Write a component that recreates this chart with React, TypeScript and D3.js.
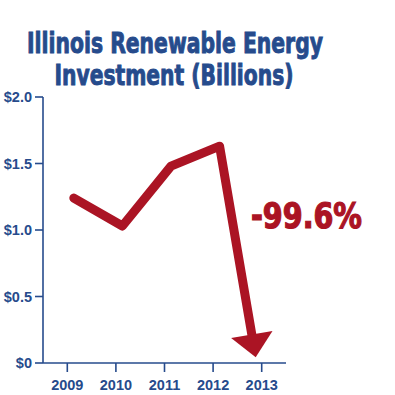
import React from "react";
import * as d3 from "d3";

const WIDTH = 395;
const HEIGHT = 395;
const BLUE = "#264b8c";
const RED = "#ab1424";

const years = [2009, 2010, 2011, 2012, 2013];
const investment = [1.24, 1.03, 1.48, 1.63, 0.0065];
const yTicks = [0, 0.5, 1.0, 1.5, 2.0];
const yTickLabels = ["$0", "$0.5", "$1.0", "$1.5", "$2.0"];
const titleLines = ["Illinois Renewable Energy", "Investment (Billions)"];
const changeLabel = "-99.6%";

const x = d3.scaleLinear().domain([2008.5, 2013.5]).range([43, 286]);
const y = d3.scaleLinear().domain([0, 2]).range([363, 97]);

const condensed = "'Liberation Sans Narrow', 'DejaVu Sans Condensed', sans-serif";

export default function App() {
  // line points sit a little right of the ticks in the original artwork
  const pts: [number, number][] = years.map((yr, i) => [x(yr) + 6.5, y(investment[i])]);
  const last = pts.length - 1;
  const tip: [number, number] = [x(years[last]) - 6, y(investment[last]) - 5];
  const peak = pts[last - 1];

  const dx = tip[0] - peak[0];
  const dy = tip[1] - peak[1];
  const len = Math.sqrt(dx * dx + dy * dy);
  const ux = dx / len;
  const uy = dy / len;
  const headLen = 23;
  const headHalf = 21;
  const base: [number, number] = [tip[0] - ux * headLen, tip[1] - uy * headLen];
  const shaftEnd: [number, number] = [base[0] + ux * 3, base[1] + uy * 3];

  const linePath = d3.line()([...pts.slice(0, last), shaftEnd]) || "";
  const head = [
    tip,
    [base[0] - uy * headHalf, base[1] + ux * headHalf],
    [base[0] + uy * headHalf, base[1] - ux * headHalf],
  ]
    .map((p) => p.join(","))
    .join(" ");

  return (
    <svg width={WIDTH} height={HEIGHT} style={{ position: "absolute", left: 0, top: 0 }}>
      <rect width={WIDTH} height={HEIGHT} fill="#fff" />
      <g fontFamily={condensed} fontWeight="bold" fill={BLUE} stroke={BLUE} strokeWidth={0.9}>
        <text x={175} y={53} textAnchor="middle" fontSize={28} textLength={296} lengthAdjust="spacingAndGlyphs">
          {titleLines[0]}
        </text>
        <text x={174} y={85} textAnchor="middle" fontSize={28} textLength={239} lengthAdjust="spacingAndGlyphs">
          {titleLines[1]}
        </text>
      </g>

      {/* axes */}
      <g stroke={BLUE} strokeWidth={1.6} fill="none">
        <line x1={x.range()[0]} x2={x.range()[0]} y1={y(2)} y2={y(0)} />
        <line x1={x.range()[0]} x2={x.range()[1]} y1={y(0)} y2={y(0)} />
        {yTicks.map((t) => (
          <line key={t} x1={x.range()[0] - 8} x2={x.range()[0]} y1={y(t)} y2={y(t)} />
        ))}
        {years.map((yr) => (
          <line key={yr} x1={x(yr)} x2={x(yr)} y1={y(0)} y2={y(0) + 9} />
        ))}
      </g>
      <g fontFamily="'Liberation Sans', Arial, sans-serif" fontWeight="bold" fontSize={14.5} fill={BLUE}>
        {yTicks.map((t, i) => (
          <text key={t} x={32} y={y(t) + 5} textAnchor="end">
            {yTickLabels[i]}
          </text>
        ))}
        {years.map((yr) => (
          <text key={yr} x={x(yr)} y={390} textAnchor="middle">
            {yr}
          </text>
        ))}
      </g>

      {/* series */}
      <path d={linePath} fill="none" stroke={RED} strokeWidth={9} strokeLinecap="round" strokeLinejoin="round" />
      <polygon points={head} fill={RED} />
      <text
        x={251}
        y={228}
        fontFamily={condensed}
        fontWeight="bold"
        fontSize={35}
        fill={RED}
        stroke={RED}
        strokeWidth={1.2}
        textLength={111}
        lengthAdjust="spacingAndGlyphs"
      >
        {changeLabel}
      </text>
    </svg>
  );
}
